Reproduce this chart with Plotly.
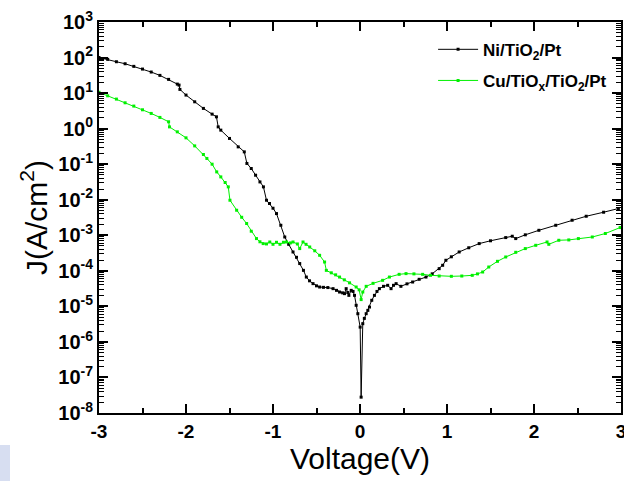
import plotly.graph_objects as go

# Ni/TiO2/Pt J-V sweep
ni_v = [-3.0, -2.9, -2.8, -2.7, -2.6, -2.5, -2.4, -2.3, -2.2, -2.1, -2.08, -2.07,
        -2.0, -1.9, -1.8, -1.7, -1.65, -1.63, -1.6, -1.5, -1.4, -1.33, -1.30, -1.25,
        -1.2, -1.15, -1.11, -1.075, -1.04, -1.0, -0.96, -0.91, -0.865, -0.82, -0.77,
        -0.73, -0.693, -0.65, -0.617, -0.58, -0.54, -0.50, -0.464, -0.42, -0.37, -0.31,
        -0.27, -0.235, -0.2, -0.178, -0.159, -0.14, -0.128, -0.101, -0.08, -0.063,
        -0.044, -0.025, 0.002, 0.013, 0.032, 0.05, 0.071, 0.09, 0.109, 0.135, 0.166,
        0.195, 0.223, 0.27, 0.318, 0.357, 0.385, 0.415, 0.47, 0.54, 0.605, 0.68, 0.758,
        0.83, 0.91, 0.95, 0.987, 1.05, 1.14, 1.25, 1.37, 1.5, 1.675, 1.75, 1.79, 1.9,
        2.056, 2.25, 2.438, 2.6, 2.8, 2.97]
ni_j = [100, 88.9, 76.2, 66.9, 56.5, 47.4, 39.1, 31.5, 24.3, 17.9, 16.8, 12.7,
        8.79, 5.69, 3.71, 2.56, 2.15, 1.12, 0.908, 0.530, 0.307, 0.222, 0.105, 0.0757,
        0.049, 0.0317, 0.023, 0.00968, 0.00782, 0.00577, 0.00408, 1.91e-3, 8.95e-4,
        5.57e-4, 3.39e-4, 2.40e-4, 1.60e-4, 1.03e-4, 6.68e-5, 5.23e-5, 4.36e-5, 3.78e-5,
        3.50e-5, 3.43e-5, 3.38e-5, 3.15e-5, 2.82e-5, 2.53e-5, 2.40e-5, 2.28e-5, 3.15e-5,
        2.45e-5, 2.04e-5, 2.82e-5, 2.63e-5, 2.04e-5, 1.07e-5, 6.22e-6, 2.61e-6, 2.79e-8,
        3.26e-6, 4.59e-6, 6.22e-6, 7.71e-6, 9.55e-6, 1.48e-5, 2.04e-5, 2.63e-5, 3.15e-5,
        3.66e-5, 3.91e-5, 3.15e-5, 3.91e-5, 4.36e-5, 3.66e-5, 4.30e-5, 4.84e-5, 5.77e-5,
        6.68e-5, 8.23e-5, 1.15e-4, 1.43e-4, 1.98e-4, 2.48e-4, 3.39e-4, 4.45e-4, 5.83e-4,
        7.0e-4, 8.61e-4, 9.4e-4, 8.07e-4, 1.03e-3, 1.38e-3, 1.91e-3, 2.65e-3, 3.43e-3,
        4.45e-3, 5.65e-3]

# Cu/TiOx/TiO2/Pt J-V sweep
cu_v = [-3.0, -2.9, -2.8, -2.7, -2.6, -2.5, -2.4, -2.3, -2.2, -2.19, -2.1, -2.0,
        -1.9, -1.8, -1.76, -1.7, -1.647, -1.6, -1.55, -1.514, -1.495, -1.418, -1.36,
        -1.303, -1.25, -1.19, -1.15, -1.113, -1.075, -1.037, -1.0, -0.96, -0.92, -0.88,
        -0.845, -0.80, -0.77, -0.72, -0.693, -0.655, -0.62, -0.578, -0.52, -0.464,
        -0.407, -0.387, -0.33, -0.28, -0.235, -0.18, -0.12, -0.044, -0.01, 0.013,
        0.032, 0.071, 0.15, 0.26, 0.338, 0.45, 0.529, 0.62, 0.72, 0.81, 0.91, 1.05,
        1.17, 1.29, 1.35, 1.41, 1.48, 1.58, 1.675, 1.79, 1.90, 2.02, 2.15, 2.17, 2.285,
        2.40, 2.51, 2.67, 2.82, 2.99]
cu_j = [10.5, 8.39, 6.78, 5.33, 4.31, 3.39, 2.68, 2.07, 1.56, 1.12, 0.813, 0.551,
        0.327, 0.1875, 0.145, 0.1, 0.0607, 0.0439, 0.0305, 0.023, 0.00968, 5.06e-3,
        3.21e-3, 2.14e-3, 1.30e-3, 8.07e-4, 6.56e-4, 5.83e-4, 5.7e-4, 6.47e-4, 5.57e-4,
        6.35e-4, 5.57e-4, 6.35e-4, 6.47e-4, 6.1e-4, 6.47e-4, 5.7e-4, 4.22e-4, 6.47e-4,
        5.57e-4, 4.68e-4, 3.66e-4, 2.73e-4, 1.77e-4, 1.03e-4, 8.79e-5, 7.71e-5, 6.68e-5,
        5.57e-5, 4.59e-5, 3.50e-5, 2.92e-5, 1.55e-5, 2.53e-5, 3.66e-5, 4.44e-5, 5.40e-5,
        6.68e-5, 7.96e-5, 8.34e-5, 8.2e-5, 7.96e-5, 7.46e-5, 7.14e-5, 7.0e-5, 7.14e-5,
        7.46e-5, 8.2e-5, 9.25e-5, 1.28e-4, 1.85e-4, 2.45e-4, 3.32e-4, 4.22e-4, 5.22e-4,
        6.47e-4, 5.57e-4, 7.23e-4, 7.4e-4, 8.07e-4, 8.95e-4, 1.12e-3, 1.65e-3]

x_ticks = [-3, -2, -1, 0, 1, 2, 3]
x_labels = ["-3", "-2", "-1", "0", "1", "2", "3"]
x_minor = [-2.5, -1.5, -0.5, 0.5, 1.5, 2.5]
y_exps = list(range(-8, 4))
y_ticks = [10.0 ** e for e in y_exps]
y_labels = [f"<b>10<sup>{e}</sup></b>" for e in y_exps]
y_minor = [m * 10.0 ** e for e in range(-8, 3) for m in range(2, 10)]

FONT = "Arial, Liberation Sans, sans-serif"

fig = go.Figure()
fig.add_trace(go.Scatter(
    x=ni_v, y=ni_j, mode="lines+markers",
    name="Ni/TiO<sub>2</sub>/Pt", legendgroup="ni",
    line=dict(color="#000000", width=1),
    marker=dict(symbol="square", size=3, color="#000000"),
))
fig.add_trace(go.Scatter(
    x=cu_v, y=cu_j, mode="lines+markers",
    name="Cu/TiO<sub>x</sub>/TiO<sub>2</sub>/Pt", legendgroup="cu",
    line=dict(color="#00f000", width=1),
    marker=dict(symbol="square", size=3, color="#00f000"),
))

axis_common = dict(
    showline=True, linecolor="black", linewidth=2, mirror="allticks",
    ticks="inside", tickcolor="black", tickwidth=2, ticklen=9,
    showgrid=False, zeroline=False, automargin=False,
)

fig.update_xaxes(
    **axis_common,
    range=[-3, 3], tickmode="array", tickvals=x_ticks, ticktext=x_labels,
    ticklabeloverflow="allow",
    tickfont=dict(family=FONT, size=19, color="black", weight="bold"),
    minor=dict(tickmode="array", tickvals=x_minor, ticks="inside", ticklen=5,
               tickcolor="black", tickwidth=1.5),
    title=dict(text="Voltage(V)", font=dict(family=FONT, size=30, color="black"), standoff=4),
)
fig.update_yaxes(
    **axis_common,
    type="log", range=[-8, 3], tickmode="array", tickvals=y_ticks, ticktext=y_labels,
    tickfont=dict(family=FONT, size=20, color="black"),
    minor=dict(tickmode="array", tickvals=y_minor, ticks="inside", ticklen=5,
               tickcolor="black", tickwidth=1.2),
    title=dict(text="J(A/cm<sup>2</sup>)", font=dict(family=FONT, size=30, color="black"), standoff=2),
)

# faint bluish smudge at the lower-left corner of the page
fig.add_shape(type="rect", xref="paper", yref="paper",
              x0=-99 / 522, x1=-89 / 522, y0=-68 / 391, y1=-32 / 391,
              fillcolor="rgba(140,160,215,0.35)", line_width=0, layer="below")

fig.update_layout(
    width=624, height=481,
    margin=dict(l=99, r=3, t=22, b=68, autoexpand=False),
    paper_bgcolor="white", plot_bgcolor="white",
    showlegend=True,
    legend=dict(
        x=0.64, y=0.975, xanchor="left", yanchor="top",
        bgcolor="rgba(0,0,0,0)", borderwidth=0,
        font=dict(family=FONT, size=17, color="black", weight="bold"),
        itemwidth=40, tracegroupgap=6,
    ),
)

fig.write_html("out.html")
